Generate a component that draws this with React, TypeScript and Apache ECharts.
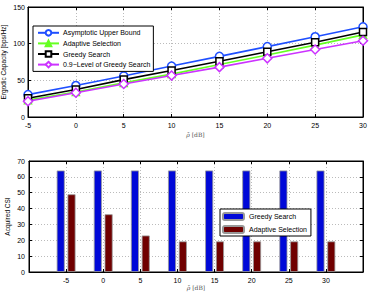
import React, { useEffect, useRef } from "react";
import * as echarts from "echarts";

const snr = [-5, 0, 5, 10, 15, 20, 25, 30];
const upperBound = [30.5, 43, 56, 69.5, 82.7, 96, 109.5, 123];
const adaptive = [23, 34, 46.5, 58.5, 71.5, 84.5, 98, 112];
const greedy = [25.5, 37.5, 51, 63.5, 76, 89, 102, 116];
const greedy09 = [21.5, 33, 45, 56.5, 68, 80, 92, 104];

const csiGreedy = [64, 64, 64, 64, 64, 64, 64, 64];
const csiAdaptive = [49, 36.4, 23, 19.3, 19.3, 19.3, 19.3, 19.3];

const FONT = "Liberation Sans, Arial, sans-serif";

const pair = (xs: number[], ys: number[]) => xs.map((x, i) => [x, ys[i]]);

export default function App() {
  const ref = useRef<HTMLDivElement>(null);
  useEffect(() => {
    if (!ref.current) return;
    const chart = echarts.init(ref.current, null, { renderer: "svg" });
    const axisLab = { fontSize: 7, color: "#000", fontFamily: FONT, margin: 5 };
    const dotted = { show: true, lineStyle: { color: "#aaa", type: [1, 2], width: 0.8 } };
    const xName = {
      name: "{i|ρ̄} [dB]",
      nameLocation: "middle" as const,
      nameMoveOverlap: false,
      nameTextStyle: {
        fontSize: 6,
        color: "#555",
        fontFamily: "DejaVu Serif, serif",
        rich: { i: { fontStyle: "italic", fontSize: 6, color: "#555", fontFamily: "DejaVu Serif, serif" } },
      },
    };
    const tick = { inside: true, length: 3, lineStyle: { color: "#000" } };
    const line = { show: true, onZero: false, lineStyle: { color: "#000", width: 1 } };

    const mkLine = (name: string, data: number[], color: string, symbol: string, filled = false, size = 7) => ({
      name,
      type: "line",
      xAxisIndex: 0,
      yAxisIndex: 0,
      data: pair(snr, data),
      symbol,
      symbolSize: size,
      lineStyle: { color, width: 1.6 },
      itemStyle: { color: filled ? color : "#fff", borderColor: color, borderWidth: 1.5 },
      emphasis: { disabled: true },
    });

    chart.setOption({
      animation: false,
      grid: [
        { left: 28, right: 11, top: 7, height: 110, show: true, borderColor: "#000", borderWidth: 1, containLabel: false, outerBoundsMode: "none" },
        { left: 29, right: 11, top: 161, height: 111, show: true, borderColor: "#000", borderWidth: 1, containLabel: false, outerBoundsMode: "none" },
      ],
      legend: [
        {
          data: ["Asymptotic Upper Bound", "Adaptive Selection", "Greedy Search", "0.9−Level of Greedy Search"].map((n) => ({ name: n })),
          orient: "vertical",
          left: 33,
          top: 26,
          itemWidth: 21,
          itemHeight: 7,
          itemGap: 3,
          padding: [3, 3, 3, 4],
          backgroundColor: "#fff",
          borderColor: "#000",
          borderWidth: 1,
          textStyle: { fontSize: 7, fontFamily: FONT, color: "#000", padding: [0, 0, 0, -1] },
        },
        {
          data: ["Greedy Search ", "Adaptive Selection "],
          orient: "vertical",
          left: 220,
          top: 209,
          itemWidth: 21,
          itemHeight: 7,
          itemGap: 4,
          padding: [3, 2, 2, 2],
          backgroundColor: "#fff",
          borderColor: "#000",
          borderWidth: 1,
          textStyle: { fontSize: 7, fontFamily: FONT, color: "#000" },
        },
      ],
      xAxis: [
        {
          type: "value", gridIndex: 0, min: -5, max: 30, interval: 5,
          axisLabel: axisLab, axisTick: tick, axisLine: line, splitLine: dotted,
          ...xName, nameGap: 14,
        },
        {
          type: "value", gridIndex: 1, min: -10, max: 35, interval: 5,
          axisLabel: { ...axisLab, formatter: (v: number) => (v === -10 || v === 35 ? "" : String(v)) },
          axisTick: tick, axisLine: line, splitLine: dotted,
          ...xName, nameGap: 12,
        },
        {
          type: "value", gridIndex: 0, position: "top", min: -5, max: 30, interval: 5,
          axisLabel: { show: false }, axisTick: tick, axisLine: line, splitLine: { show: false },
        },
        {
          type: "value", gridIndex: 1, position: "top", min: -10, max: 35, interval: 5,
          axisLabel: { show: false }, axisTick: tick, axisLine: line, splitLine: { show: false },
        },
      ],
      yAxis: [
        {
          type: "value", gridIndex: 0, min: 0, max: 150, interval: 50,
          axisLabel: { ...axisLab, margin: 3 }, axisTick: tick, axisLine: line, splitLine: dotted,
          name: "Ergodic Capacity [bps/Hz]", nameLocation: "middle", nameGap: 21, nameMoveOverlap: false,
          nameTextStyle: { fontSize: 6.5, fontFamily: FONT, color: "#000" },
        },
        {
          type: "value", gridIndex: 1, min: 0, max: 70, interval: 10,
          axisLabel: { ...axisLab, margin: 4 }, axisTick: tick, axisLine: line, splitLine: dotted,
          name: "Acquired CSI", nameLocation: "middle", nameGap: 18, nameMoveOverlap: false,
          nameTextStyle: { fontSize: 6.5, fontFamily: FONT, color: "#000" },
        },
        {
          type: "value", gridIndex: 0, position: "right", min: 0, max: 150, interval: 50,
          axisLabel: { show: false }, axisTick: tick, axisLine: line, splitLine: { show: false },
        },
        {
          type: "value", gridIndex: 1, position: "right", min: 0, max: 70, interval: 10,
          axisLabel: { show: false }, axisTick: tick, axisLine: line, splitLine: { show: false },
        },
      ],
      series: [
        mkLine("Asymptotic Upper Bound", upperBound, "#1f4fff", "circle", false, 8),
        mkLine("Adaptive Selection", adaptive, "#66ff22", "triangle", true, 7),
        mkLine("Greedy Search", greedy, "#000000", "rect", false, 7),
        mkLine("0.9−Level of Greedy Search", greedy09, "#cc33ff", "diamond", false, 9),
        {
          name: "Greedy Search ",
          type: "bar",
          xAxisIndex: 1,
          yAxisIndex: 1,
          data: pair(snr, csiGreedy),
          barWidth: 8,
          barGap: "35%",
          itemStyle: { color: "#0008d8", borderColor: "#999", borderWidth: 0.8 },
          emphasis: { disabled: true },
        },
        {
          name: "Adaptive Selection ",
          type: "bar",
          xAxisIndex: 1,
          yAxisIndex: 1,
          data: pair(snr, csiAdaptive),
          barWidth: 8,
          barGap: "35%",
          itemStyle: { color: "#700000", borderColor: "#999", borderWidth: 0.8 },
          emphasis: { disabled: true },
        },
      ],
    });
    return () => chart.dispose();
  }, []);
  return <div ref={ref} style={{ width: 374, height: 294, position: "absolute", left: 0, top: 0, background: "#fff" }} />;
}
